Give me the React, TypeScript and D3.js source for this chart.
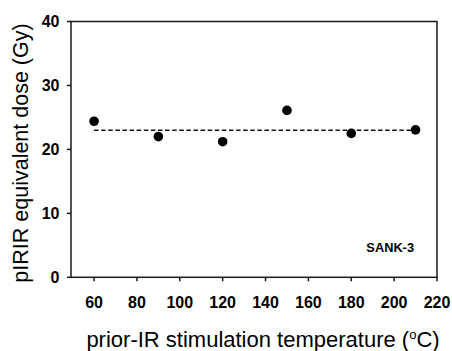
import React from "react";
import * as d3 from "d3";

const temperatures = [60, 90, 120, 150, 180, 210];
const doses = [24.4, 22.0, 21.2, 26.1, 22.5, 23.06];
const meanDose = 23.0;
const xTicks = [60, 80, 100, 120, 140, 160, 180, 200, 220];
const yTicks = [0, 10, 20, 30, 40];
const sampleLabel = "SANK-3";
const xTitle = "prior-IR stimulation temperature (";
const yTitle = "pIRIR equivalent dose (Gy)";

const W = 452;
const H = 351;
const left = 71;
const right = 437;
const top = 21.5;
const bottom = 277.3;

export default function App() {
  const x = d3.scaleLinear().domain([49.24, 220]).range([left, right]);
  const y = d3.scaleLinear().domain([0, 40]).range([bottom, top]);
  const axisColor = "#1a1a1a";
  const font = "Liberation Sans, Arial, sans-serif";
  const lineGen = d3
    .line<number>()
    .x((d) => x(d))
    .y(() => y(meanDose));
  return (
    <svg
      width={W}
      height={H}
      style={{ position: "absolute", left: 0, top: 0, background: "#fff" }}
      fontFamily={font}
    >
      <rect x={0} y={0} width={W} height={H} fill="#fff" />
      {/* frame */}
      <rect
        x={left}
        y={top}
        width={right - left}
        height={bottom - top}
        fill="none"
        stroke={axisColor}
        strokeWidth={1.5}
      />
      {/* y ticks */}
      {yTicks.map((t) => (
        <g key={"y" + t}>
          <line x1={left - 4} x2={left} y1={y(t)} y2={y(t)} stroke={axisColor} strokeWidth={1.5} />
          <text
            x={59.5}
            y={y(t) + 5.7}
            textAnchor="end"
            fontSize={16}
            fontWeight="bold"
            fill="#000"
          >
            {t}
          </text>
        </g>
      ))}
      {/* x ticks */}
      {xTicks.map((t) => (
        <g key={"x" + t}>
          <line x1={x(t)} x2={x(t)} y1={bottom} y2={bottom + 4} stroke={axisColor} strokeWidth={1.5} />
          <text
            x={x(t)}
            y={307.5}
            textAnchor="middle"
            fontSize={16}
            fontWeight="bold"
            fill="#000"
          >
            {t}
          </text>
        </g>
      ))}
      {/* mean dashed line */}
      <path
        d={lineGen([temperatures[0], temperatures[temperatures.length - 1]]) || ""}
        fill="none"
        stroke="#111"
        strokeWidth={1.6}
        strokeDasharray="4.5,2.6"
      />
      {/* points */}
      {temperatures.map((t, i) => (
        <circle key={"p" + i} cx={x(t)} cy={y(doses[i])} r={4.8} fill="#000" />
      ))}
      {/* sample label */}
      <text x={414} y={252.3} textAnchor="end" fontSize={12.8} fontWeight="bold" fill="#000">
        {sampleLabel}
      </text>
      {/* axis titles */}
      <text x={263} y={346.7} textAnchor="middle" fontSize={22} fill="#000">
        {xTitle}
        <tspan fontSize={13} dy={-8}>o</tspan>
        <tspan dy={8}>C)</tspan>
      </text>
      <text
        transform={`translate(27.5, 153) rotate(-90)`}
        textAnchor="middle"
        fontSize={21.5}
        fill="#000"
      >
        {yTitle}
      </text>
    </svg>
  );
}
